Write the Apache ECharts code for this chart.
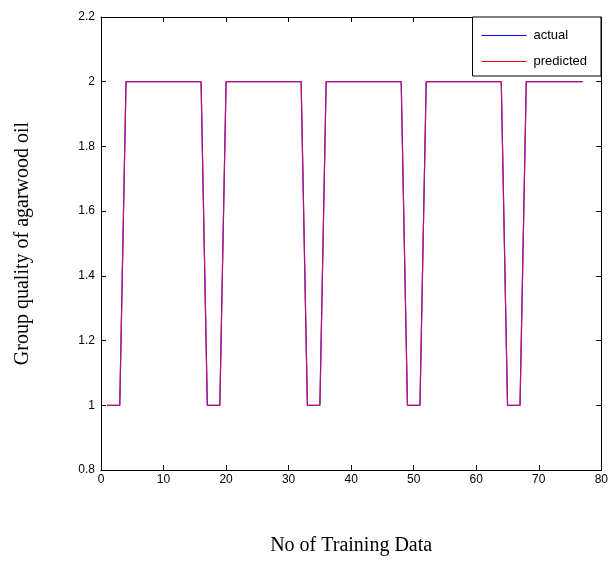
<!DOCTYPE html>
<html><head><meta charset="utf-8">
<script src="https://cdn.jsdelivr.net/npm/echarts@6/dist/echarts.min.js"></script>
<style>html,body{margin:0;padding:0;background:#fff}#c{width:611px;height:561px}</style>
</head><body><div id="c"></div>
<script>
const xValues = [1,2,3,4,5,6,7,8,9,10,11,12,13,14,15,16,17,18,19,20,21,22,23,24,25,26,27,28,29,30,31,32,33,34,35,36,37,38,39,40,41,42,43,44,45,46,47,48,49,50,51,52,53,54,55,56,57,58,59,60,61,62,63,64,65,66,67,68,69,70,71,72,73,74,75,76,77];
const actual = [1,1,1,2,2,2,2,2,2,2,2,2,2,2,2,2,1,1,1,2,2,2,2,2,2,2,2,2,2,2,2,2,1,1,1,2,2,2,2,2,2,2,2,2,2,2,2,2,1,1,1,2,2,2,2,2,2,2,2,2,2,2,2,2,1,1,1,2,2,2,2,2,2,2,2,2,2];
const predicted = [1,1,1,2,2,2,2,2,2,2,2,2,2,2,2,2,1,1,1,2,2,2,2,2,2,2,2,2,2,2,2,2,1,1,1,2,2,2,2,2,2,2,2,2,2,2,2,2,1,1,1,2,2,2,2,2,2,2,2,2,2,2,2,2,1,1,1,2,2,2,2,2,2,2,2,2,2];
const seriesNames = ['actual','predicted'];
const xTitle = 'No of Training Data';
const yTitle = 'Group quality of agarwood oil';

const pair = (ys) => xValues.map((x,i)=>[x, ys[i]]);
const chart = echarts.init(document.getElementById('c'), null, {renderer:'canvas'});
const axisFont = {fontFamily:'Liberation Sans, Arial', fontSize:12, color:'#000'};
const baseX = {type:'value', min:0, max:80, interval:10, splitLine:{show:false},
  axisLine:{show:true, onZero:false, lineStyle:{color:'#000', width:1}},
  axisTick:{show:true, inside:true, length:5, lineStyle:{color:'#000'}}};
const baseY = {type:'value', min:0.8, max:2.2, interval:0.2, splitLine:{show:false},
  axisLine:{show:true, onZero:false, lineStyle:{color:'#000', width:1}},
  axisTick:{show:true, inside:true, length:5, lineStyle:{color:'#000'}}};
chart.setOption({
  animation:false,
  backgroundColor:'#fff',
  grid:{left:101, right:6, top:17, bottom:79, containLabel:false},
  xAxis:[
    Object.assign({}, baseX, {position:'bottom', axisLabel:Object.assign({margin:4}, axisFont),
      name:xTitle, nameLocation:'middle', nameGap:66,
      nameTextStyle:{fontFamily:'Liberation Serif, Times New Roman', fontSize:20, color:'#000'}}),
    Object.assign({}, baseX, {position:'top', axisLabel:{show:false}})
  ],
  yAxis:[
    Object.assign({}, baseY, {position:'left', axisLabel:Object.assign({margin:6,
      formatter:(v)=>String(Math.round(v*10)/10)}, axisFont),
      name:yTitle, nameLocation:'middle', nameGap:68, nameRotate:90,
      nameTextStyle:{fontFamily:'Liberation Serif, Times New Roman', fontSize:20, color:'#000'}}),
    Object.assign({}, baseY, {position:'right', axisLabel:{show:false}})
  ],
  legend:{
    orient:'vertical', right:10, top:17,
    backgroundColor:'#fff', borderColor:'#000', borderWidth:1, borderRadius:0,
    padding:[12,14,8,9], itemGap:13, itemWidth:45, itemHeight:1,
    icon:'rect',
    textStyle:{fontFamily:'Liberation Sans, Arial', fontSize:13, color:'#000', padding:[0,0,0,2]},
    itemStyle:{borderWidth:0},
    data:[
      {name:seriesNames[0], itemStyle:{color:'#0000ff', borderWidth:0}},
      {name:seriesNames[1], itemStyle:{color:'#ff0000', borderWidth:0}}
    ]
  },
  series:[
    {name:seriesNames[0], type:'line', data:pair(actual), showSymbol:false, symbol:'none',
      itemStyle:{color:'#0000ff'}, lineStyle:{color:'#3a1ab0', width:1.2}},
    {name:seriesNames[1], type:'line', data:pair(predicted), showSymbol:false, symbol:'none',
      itemStyle:{color:'#ff0000'}, lineStyle:{color:'#c0107a', width:1.2, opacity:0.95}}
  ]
});
</script></body></html>
